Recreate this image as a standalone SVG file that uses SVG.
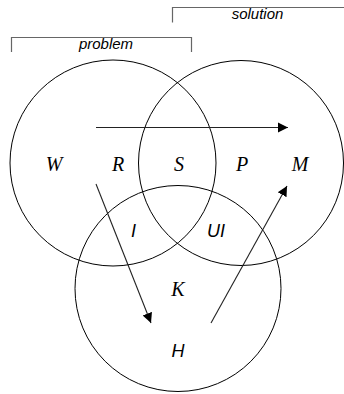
<svg xmlns="http://www.w3.org/2000/svg" width="344" height="394" viewBox="0 0 344 394">
<defs>
<style>
.c{fill:none;stroke:#000;stroke-width:1}
.br{fill:none;stroke:#666;stroke-width:1.2}
.ar{fill:none;stroke:#222;stroke-width:1.1}
.lab{font-family:"Liberation Sans",Arial,sans-serif;font-style:italic;font-size:15px;fill:#000;text-anchor:middle}
.ser{font-family:"Liberation Serif","Times New Roman",serif;font-style:italic;font-size:20px;fill:#000;text-anchor:middle}
.san{font-family:"Liberation Sans",Arial,sans-serif;font-style:italic;font-size:18px;fill:#000;text-anchor:middle}
</style>
<marker id="ah" viewBox="0 0 10 10" refX="10" refY="5" markerUnits="userSpaceOnUse" markerWidth="10" markerHeight="13" orient="auto">
<path d="M0,0 L10,5 L0,10 z" fill="#000"/>
</marker>
</defs>
<g id="bracket-solution">
<path class="br" d="M172.5,22.5 V7.5 H344"/>
<text class="lab" x="257.5" y="19">solution</text>
</g>
<g id="bracket-problem">
<path class="br" d="M11.5,52 V37.5 H191.5 V52"/>
<text class="lab" x="106" y="49">problem</text>
</g>
<g id="circle-left"><circle class="c" cx="113" cy="163" r="103"/></g>
<g id="circle-right"><circle class="c" cx="241" cy="163" r="102.5"/></g>
<g id="circle-bottom"><circle class="c" cx="178" cy="288.5" r="103"/></g>
<g id="connectors">
<line class="ar" x1="96" y1="127.5" x2="288" y2="127.5" marker-end="url(#ah)"/>
<line class="ar" x1="96" y1="184" x2="151" y2="323" marker-end="url(#ah)"/>
<line class="ar" x1="211" y1="323" x2="287" y2="186" marker-end="url(#ah)"/>
</g>
<g id="labels">
<text class="ser" x="54" y="171">W</text>
<text class="ser" x="118" y="171">R</text>
<text class="ser" x="179" y="171">S</text>
<text class="ser" x="242" y="171">P</text>
<text class="ser" x="300" y="171">M</text>
<text class="san" x="133.5" y="237">I</text>
<text class="san" x="216" y="237">UI</text>
<text class="ser" x="178" y="296">K</text>
<text class="san" x="178" y="357">H</text>
</g>
</svg>
